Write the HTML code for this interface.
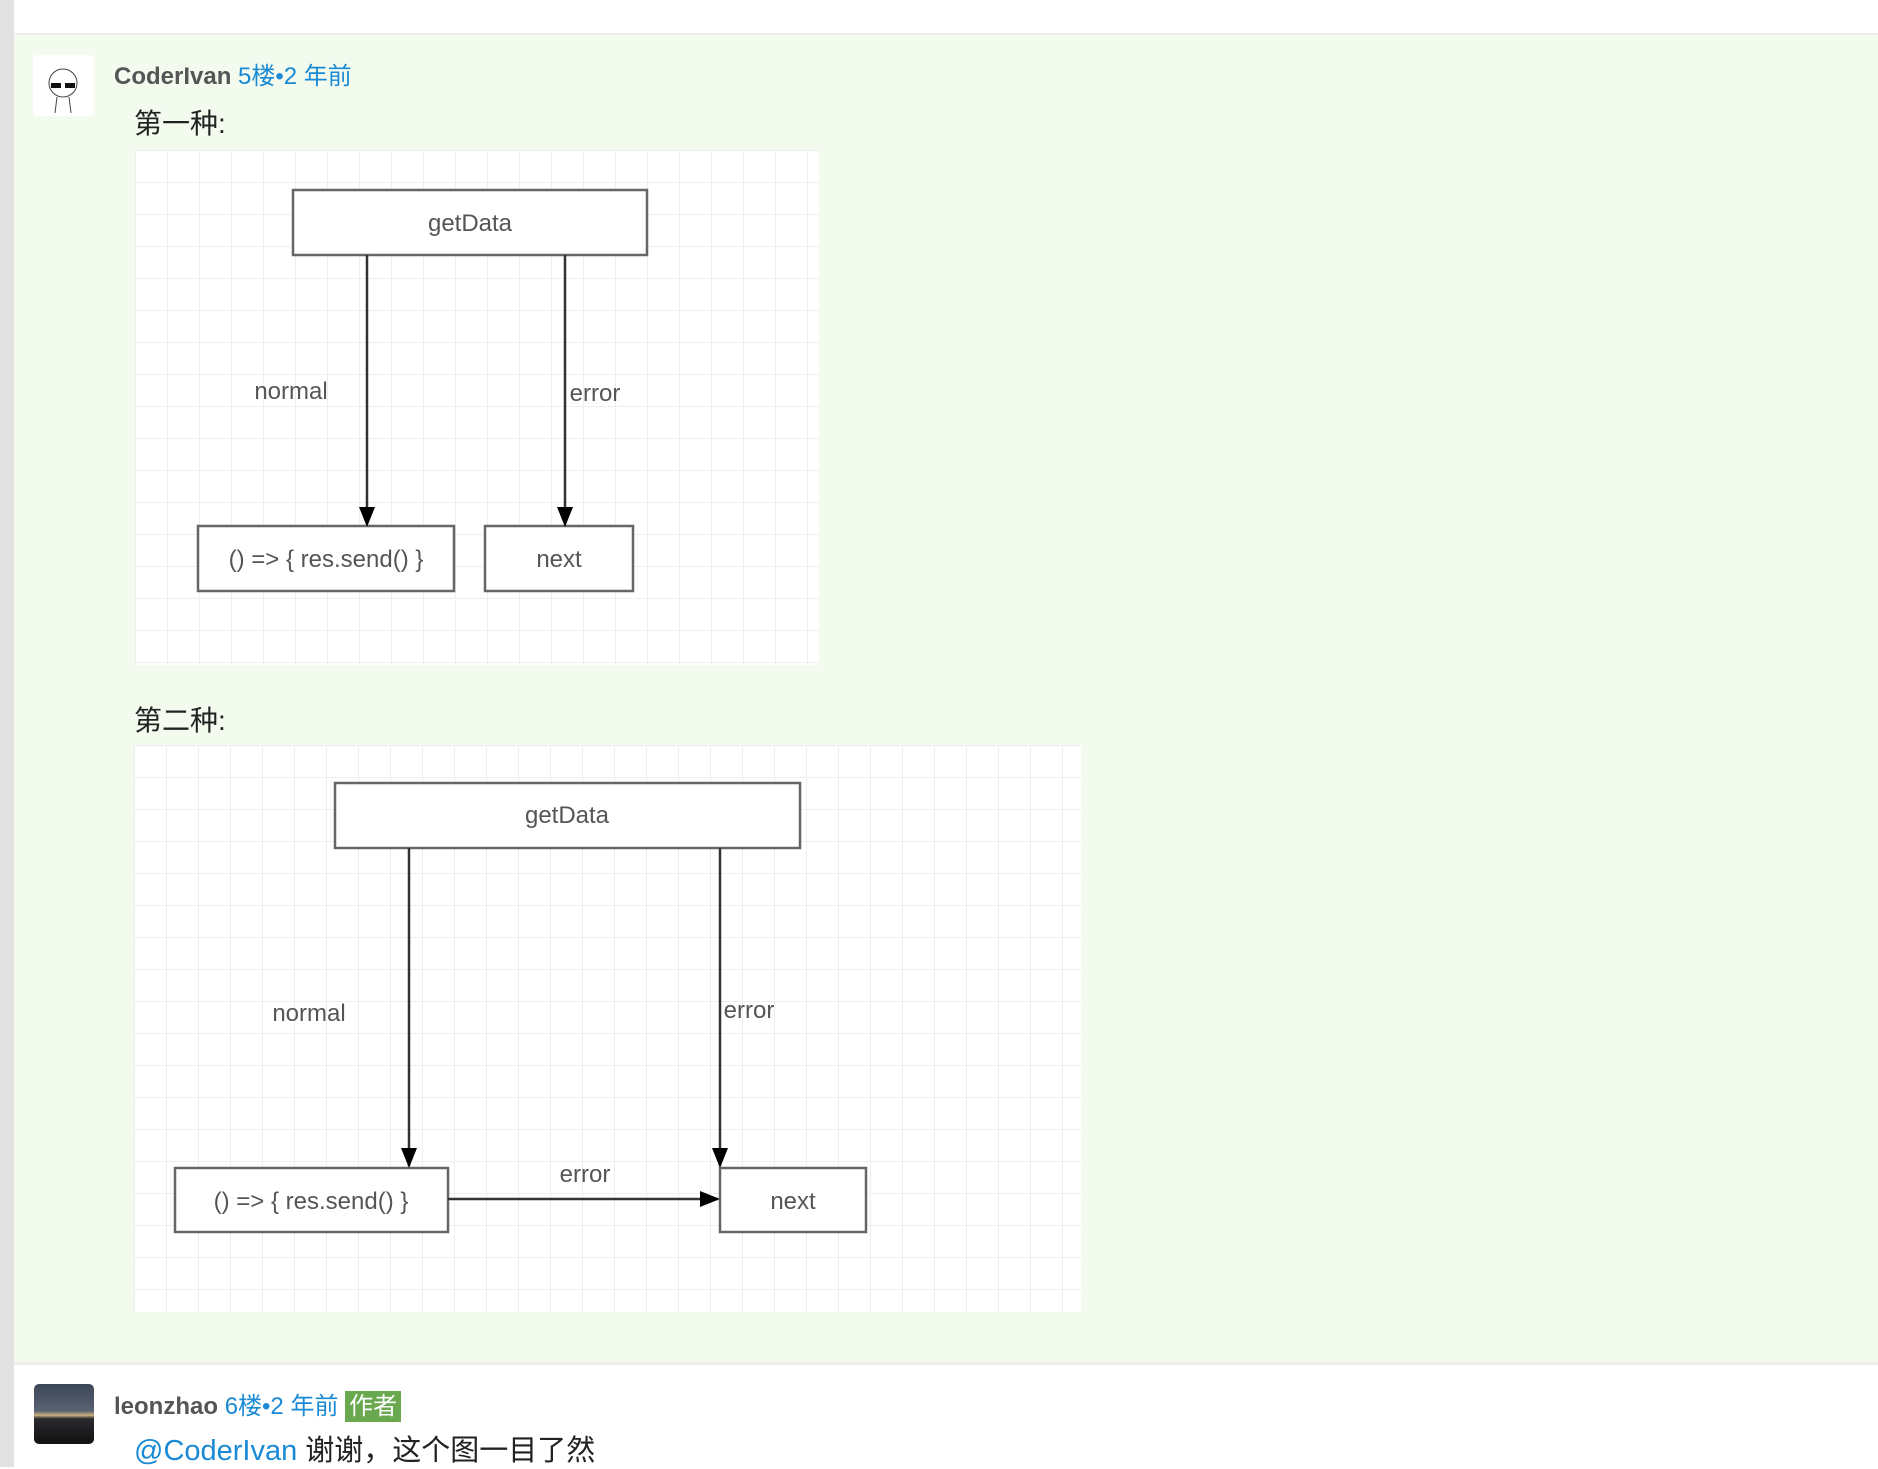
<!DOCTYPE html>
<html><head><meta charset="utf-8"><style>
body{margin:0;width:1878px;height:1467px;position:relative;background:#fff;overflow:hidden;font-family:"Liberation Sans","Noto Sans CJK SC",sans-serif}
.abs{position:absolute}
</style></head><body>
<div class="abs" style="left:0;top:0;width:14px;height:1467px;background:#e2e2e2"></div>
<div class="abs" style="left:14px;top:33px;width:1864px;height:2px;background:#eee"></div>
<div class="abs" style="left:14px;top:35px;width:1864px;height:1327px;background:#f3fbef"></div>
<div class="abs" style="left:14px;top:1362px;width:1864px;height:3px;background:#eee"></div>
<div class="abs" style="left:33px;top:55px;width:61px;height:61px;background:#fff;border-radius:4px"></div>
<svg class="abs" style="left:33px;top:55px" width="61" height="61"><circle cx="30" cy="28" r="14" fill="none" stroke="#444" stroke-width="1"/><rect x="18" y="28" width="10" height="5" fill="#111"/><rect x="32" y="28" width="10" height="5" fill="#111"/><line x1="24" y1="42" x2="22" y2="58" stroke="#444"/><line x1="36" y1="42" x2="38" y2="58" stroke="#444"/></svg>
<div class="abs" style="left:114px;top:62px;font-size:24px;line-height:30px;white-space:nowrap"><b style="color:#555">CoderIvan</b> <span style="color:#1a8ad4">5楼•2 年前</span></div>
<div class="abs" style="left:134px;top:106px;font-size:28px;line-height:36px;color:#222">第一种:</div>
<svg class="abs" style="left:135px;top:150px" width="684" height="515">
<defs><pattern id="g" width="32" height="32" patternUnits="userSpaceOnUse"><rect width="32" height="32" fill="#fff"/><path d="M0 0H32M0 0V32" stroke="#eee" stroke-width="2"/></pattern></defs>
<rect width="684" height="515" fill="url(#g)"/>
<g fill="#fff" stroke="#666" stroke-width="2.5">
<rect x="158" y="40" width="354" height="65"/><rect x="63" y="376" width="256" height="65"/><rect x="350" y="376" width="148" height="65"/></g>
<g stroke="#333" stroke-width="2.5"><line x1="232" y1="105" x2="232" y2="374"/><line x1="430" y1="105" x2="430" y2="374"/></g>
<path d="M224 357L240 357L232 377z" fill="#000"/><path d="M422 357L438 357L430 377z" fill="#000"/>
<g font-family="Liberation Sans,sans-serif" font-size="24" fill="#555" text-anchor="middle">
<text x="335" y="81">getData</text><text x="191" y="417">() =&gt; { res.send() }</text><text x="424" y="417">next</text>
<text x="156" y="249">normal</text><text x="460" y="251">error</text></g>
</svg>
<div class="abs" style="left:134px;top:703px;font-size:28px;line-height:36px;color:#222">第二种:</div>
<svg class="abs" style="left:134px;top:745px" width="947" height="567">
<rect width="947" height="567" fill="url(#g)"/>
<g fill="#fff" stroke="#666" stroke-width="2.5">
<rect x="201" y="38" width="465" height="65"/><rect x="41" y="423" width="273" height="64"/><rect x="586" y="423" width="146" height="64"/></g>
<g stroke="#333" stroke-width="2.5"><line x1="275" y1="103" x2="275" y2="421"/><line x1="586" y1="103" x2="586" y2="421"/><line x1="314" y1="454" x2="584" y2="454"/></g>
<path d="M267 403L283 403L275 423z" fill="#000"/><path d="M578 403L594 403L586 423z" fill="#000"/><path d="M566 446L566 462L586 454z" fill="#000"/>
<g font-family="Liberation Sans,sans-serif" font-size="24" fill="#555" text-anchor="middle">
<text x="433" y="78">getData</text><text x="177" y="464">() =&gt; { res.send() }</text><text x="659" y="464">next</text>
<text x="175" y="276">normal</text><text x="615" y="273">error</text><text x="451" y="437">error</text></g>
</svg>
<div class="abs" style="left:34px;top:1384px;width:60px;height:60px;border-radius:5px;background:linear-gradient(#3a4658 0%,#5a6270 45%,#c8b080 52%,#2a2a30 58%,#111 100%)"></div>
<div class="abs" style="left:114px;top:1392px;font-size:24px;line-height:30px;white-space:nowrap"><b style="color:#555">leonzhao</b> <span style="color:#1a8ad4">6楼•2 年前</span> <span style="background:#6aa84f;color:#fff;padding:2px 4px">作者</span></div>
<div class="abs" style="left:134px;top:1433px;font-size:29px;line-height:36px;white-space:nowrap;color:#222"><span style="color:#1a8ad4">@CoderIvan</span> 谢谢，这个图一目了然</div>
</body></html>
